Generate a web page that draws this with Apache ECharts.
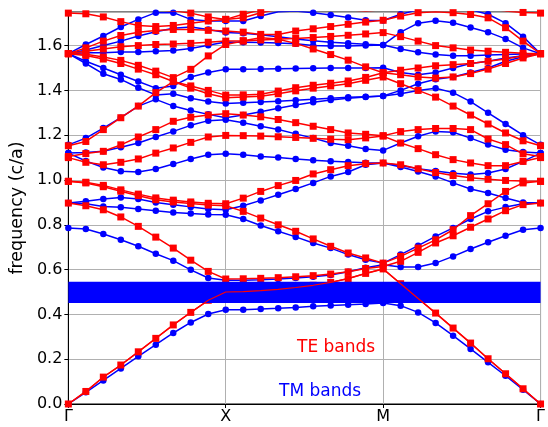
<!DOCTYPE html>
<html><head><meta charset="utf-8">
<script src="https://cdn.jsdelivr.net/npm/echarts@6/dist/echarts.min.js"></script>
<style>html,body{margin:0;padding:0;background:#fff}#c{width:548px;height:427px}</style>
</head><body><div id="c"></div>
<script>
// k-path labels at indices 0, 9, 18, 27
const kTickIndex = [0, 9, 18, 27];
const kTickLabels = ['Γ', 'X', 'M', 'Γ'];
const gapRange = [0.451, 0.546];

// TE bands (red squares), 28 k-points each: Γ-X (0-9), X-M (10-18), M-Γ (19-27)
const te1 = [0,0.056,0.120,0.174,0.233,0.293,0.353,0.409,0.463,0.500, 0.502,0.506,0.512,0.520,0.530,0.543,0.560,0.583,0.603, 0.537,0.471,0.406,0.339,0.272,0.202,0.135,0.068,0];
const te2 = [0.897,0.885,0.867,0.835,0.793,0.745,0.696,0.642,0.592,0.558, 0.559,0.561,0.564,0.568,0.573,0.580,0.590,0.605,0.614, 0.637,0.677,0.719,0.751,0.789,0.826,0.863,0.890,0.897];
const te3 = [0.994,0.987,0.970,0.950,0.930,0.912,0.902,0.895,0.888,0.885, 0.860,0.830,0.800,0.771,0.737,0.704,0.674,0.652,0.629, 0.659,0.696,0.733,0.778,0.841,0.894,0.949,0.987,0.994];
const te4 = [0.994,0.990,0.976,0.956,0.937,0.920,0.910,0.902,0.896,0.894, 0.919,0.949,0.975,0.998,1.027,1.046,1.064,1.073,1.076, 1.068,1.050,1.033,1.020,1.010,1.003,0.998,0.995,0.994];
const te5 = [1.100,1.079,1.068,1.079,1.094,1.120,1.143,1.168,1.192,1.199, 1.198,1.196,1.193,1.190,1.186,1.182,1.180,1.188,1.196, 1.165,1.140,1.113,1.091,1.076,1.064,1.064,1.083,1.100];
const te6 = [1.105,1.118,1.128,1.157,1.192,1.225,1.262,1.280,1.290,1.296, 1.290,1.282,1.270,1.256,1.240,1.225,1.210,1.204,1.198, 1.216,1.225,1.230,1.230,1.225,1.183,1.158,1.117,1.105];
const te7 = [1.153,1.172,1.225,1.278,1.330,1.390,1.439,1.410,1.385,1.367, 1.370,1.374,1.385,1.398,1.410,1.420,1.430,1.445,1.460, 1.430,1.400,1.370,1.330,1.290,1.250,1.210,1.175,1.153];
const te8 = [1.564,1.556,1.540,1.520,1.495,1.470,1.440,1.420,1.400,1.379, 1.380,1.383,1.397,1.412,1.423,1.432,1.442,1.458,1.479, 1.470,1.460,1.455,1.460,1.475,1.495,1.520,1.545,1.564];
const te9 = [1.564,1.561,1.549,1.534,1.512,1.486,1.457,1.494,1.554,1.605, 1.620,1.625,1.628,1.610,1.585,1.560,1.535,1.505,1.479, 1.490,1.500,1.510,1.515,1.520,1.530,1.540,1.555,1.564];
const te10 = [1.564,1.575,1.585,1.595,1.600,1.605,1.607,1.610,1.615,1.620, 1.622,1.635,1.630,1.632,1.636,1.641,1.646,1.652,1.658, 1.640,1.620,1.600,1.590,1.580,1.575,1.570,1.566,1.564];
const te11 = [1.564,1.590,1.620,1.645,1.660,1.667,1.672,1.672,1.668,1.665, 1.660,1.650,1.650,1.665,1.675,1.685,1.695,1.705,1.713, 1.732,1.747,1.751,1.747,1.739,1.724,1.680,1.620,1.564];
const te12 = [1.745,1.742,1.728,1.707,1.690,1.685,1.690,1.700,1.710,1.717, 1.724,1.747,1.762,1.780,1.780,1.770,1.760,1.755,1.760, 1.770,1.780,1.780,1.780,1.770,1.765,1.755,1.748,1.745];
const te13 = [1.800,1.800,1.790,1.780,1.770,1.760,1.755,1.745,1.728,1.717, 1.740,1.760,1.780,1.800,1.800,1.800,1.800,1.800,1.800, 1.800,1.800,1.800,1.800,1.800,1.800,1.800,1.800,1.800];

// TM bands (blue circles)
const tm1 = [0,0.052,0.105,0.159,0.213,0.265,0.317,0.364,0.402,0.421, 0.421,0.424,0.427,0.431,0.436,0.440,0.443,0.446,0.451, 0.439,0.409,0.362,0.305,0.246,0.186,0.126,0.064,0];
const tm2 = [0.786,0.781,0.759,0.733,0.704,0.671,0.640,0.599,0.5625,0.552, 0.553,0.555,0.558,0.562,0.568,0.576,0.590,0.608,0.622, 0.612,0.612,0.629,0.659,0.692,0.722,0.751,0.778,0.786];
const tm3 = [0.897,0.894,0.882,0.878,0.870,0.863,0.855,0.850,0.846,0.845, 0.826,0.797,0.771,0.746,0.719,0.696,0.667,0.644,0.629, 0.667,0.707,0.748,0.786,0.826,0.860,0.879,0.894,0.897];
const tm4 = [0.897,0.905,0.915,0.922,0.915,0.900,0.890,0.880,0.871,0.867, 0.885,0.909,0.934,0.960,0.987,1.016,1.036,1.068,1.076, 1.058,1.038,1.016,0.987,0.960,0.942,0.920,0.900,0.897];
const tm5 = [1.120,1.085,1.056,1.039,1.036,1.049,1.071,1.094,1.113,1.117, 1.113,1.105,1.100,1.094,1.088,1.084,1.080,1.077,1.076, 1.065,1.050,1.040,1.030,1.025,1.031,1.049,1.083,1.120];
const tm6 = [1.120,1.123,1.128,1.146,1.165,1.192,1.217,1.244,1.265,1.269, 1.256,1.240,1.225,1.206,1.187,1.165,1.153,1.138,1.132, 1.165,1.195,1.217,1.213,1.187,1.158,1.135,1.125,1.120];
const tm7 = [1.157,1.187,1.232,1.278,1.330,1.360,1.330,1.310,1.293,1.278, 1.290,1.305,1.320,1.335,1.347,1.357,1.365,1.371,1.375, 1.385,1.400,1.410,1.390,1.350,1.300,1.250,1.200,1.157];
const tm8 = [1.564,1.520,1.474,1.449,1.412,1.380,1.385,1.365,1.350,1.342, 1.345,1.348,1.352,1.356,1.360,1.365,1.369,1.372,1.375, 1.400,1.430,1.450,1.460,1.480,1.500,1.530,1.550,1.564];
const tm9 = [1.564,1.530,1.500,1.470,1.440,1.410,1.420,1.460,1.480,1.494, 1.494,1.495,1.497,1.498,1.499,1.500,1.500,1.500,1.501, 1.480,1.470,1.480,1.500,1.520,1.530,1.545,1.555,1.564];
const tm10 = [1.564,1.568,1.568,1.571,1.571,1.575,1.578,1.587,1.602,1.616, 1.615,1.614,1.612,1.608,1.600,1.598,1.598,1.600,1.603, 1.585,1.570,1.560,1.555,1.555,1.558,1.560,1.562,1.564];
const tm11 = [1.564,1.580,1.600,1.620,1.643,1.662,1.677,1.683,1.672,1.658, 1.655,1.648,1.640,1.630,1.622,1.615,1.610,1.606,1.603, 1.660,1.700,1.711,1.702,1.681,1.660,1.630,1.590,1.564];
const tm12 = [1.564,1.605,1.643,1.683,1.717,1.747,1.747,1.717,1.710,1.710, 1.710,1.732,1.751,1.754,1.747,1.737,1.725,1.713,1.712, 1.740,1.760,1.770,1.770,1.760,1.740,1.700,1.640,1.564];

const teBands = [te1,te2,te3,te4,te5,te6,te7,te8,te9,te10,te11,te12,te13];
const tmBands = [tm1,tm2,tm3,tm4,tm5,tm6,tm7,tm8,tm9,tm10,tm11,tm12];

const RED = '#ff0000', BLUE = '#0000ff';
const toXY = arr => arr.map((v, i) => [i, v]);
const series = [];
tmBands.forEach(b => series.push({
  type: 'line', data: toXY(b), symbol: 'circle', symbolSize: 6.5, showAllSymbol: true,
  lineStyle: { color: BLUE, width: 1.5 }, itemStyle: { color: BLUE }, z: 2, clip: true, silent: true
}));
teBands.forEach(b => series.push({
  type: 'line', data: toXY(b), symbol: 'rect', symbolSize: 7, showAllSymbol: true,
  lineStyle: { color: RED, width: 1.5 }, itemStyle: { color: RED }, z: 3, clip: true, silent: true
}));
// band gap rectangle
series.push({
  type: 'custom', z: 4, silent: true, clip: true,
  data: [[0, gapRange[0], 27, gapRange[1]]],
  renderItem: (params, api) => {
    const p0 = api.coord([api.value(0), api.value(3)]);
    const p1 = api.coord([api.value(2), api.value(1)]);
    return { type: 'rect', shape: { x: p0[0], y: p0[1], width: p1[0] - p0[0], height: p1[1] - p0[1] },
      style: { fill: BLUE } };
  }
});
// lowest TE line visible over the gap
series.push({ type: 'line', data: toXY(te1), symbol: 'none', lineStyle: { color: RED, width: 1.2 }, z: 5, silent: true });

const chart = echarts.init(document.getElementById('c'), null, { renderer: 'canvas' });
chart.setOption({
  animation: false,
  grid: { left: 64, right: 1, top: 12, bottom: 23, show: true, borderColor: '#000', borderWidth: 1, backgroundColor: 'transparent' },
  xAxis: {
    type: 'value', min: 0, max: 27, interval: 9,
    axisLine: { show: true, lineStyle: { color: '#000', width: 1 } },
    axisTick: { show: true, length: 4, lineStyle: { color: '#000' } },
    axisLabel: { color: '#000', fontSize: 16, fontFamily: 'DejaVu Sans', margin: 5,
      formatter: v => { const i = kTickIndex.indexOf(Math.round(v)); return i >= 0 ? kTickLabels[i] : ''; } },
    splitLine: { show: true, lineStyle: { color: '#b0b0b0', width: 1 } }
  },
  yAxis: {
    type: 'value', min: 0, max: 1.75, interval: 0.2,
    name: 'frequency (c/a)', nameLocation: 'middle', nameGap: 39, nameRotate: 90,
    nameTextStyle: { color: '#000', fontSize: 17.5, fontFamily: 'DejaVu Sans' },
    axisLine: { show: true, lineStyle: { color: '#000', width: 1 } },
    axisTick: { show: true, length: 4, lineStyle: { color: '#000' } },
    axisLabel: { color: '#000', fontSize: 16, fontFamily: 'DejaVu Sans', margin: 6, showMaxLabel: false,
      formatter: v => (Math.abs(v * 5 - Math.round(v * 5)) < 1e-6 ? v.toFixed(1) : '') },
    splitLine: { show: true, lineStyle: { color: '#b0b0b0', width: 1 } }
  },
  graphic: [
    { type: 'text', left: 297, top: 339, style: { text: 'TE bands', fill: RED, fontSize: 17, fontFamily: 'DejaVu Sans' } },
    { type: 'text', left: 279, top: 383, style: { text: 'TM bands', fill: BLUE, fontSize: 17, fontFamily: 'DejaVu Sans' } }
  ],
  series
});
</script></body></html>
